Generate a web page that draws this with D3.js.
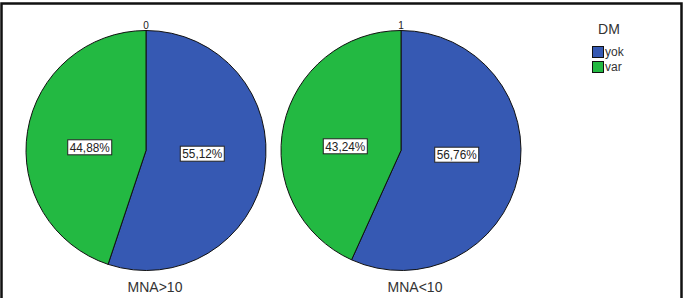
<!DOCTYPE html>
<html><head><meta charset="utf-8">
<script src="https://cdn.jsdelivr.net/npm/d3@7"></script>
<style>body{margin:0;background:#fff}svg{display:block}text{font-family:"Liberation Sans",Arial,sans-serif}</style>
</head><body>
<svg id="c" width="687" height="298"></svg>
<script>
const panels = ["0", "1"];
const panelTitles = ["MNA>10", "MNA<10"];
const categories = ["yok", "var"];
const yokValues = [55.12, 56.76];
const varValues = [44.88, 43.24];
const legendTitle = "DM";
const colors = ["#3659b3", "#23b942"];

const svg = d3.select("#c");
svg.append("rect").attr("x", 1.5).attr("y", 3.5).attr("width", 680).attr("height", 300)
  .attr("fill", "#fff").attr("stroke", "#111").attr("stroke-width", 2.5);

const R = 120;
const cx = d3.scalePoint().domain(panels).range([146, 401]);
const color = d3.scaleOrdinal().domain(categories).range(colors);
const pie = d3.pie().sort(null).value(d => d.v);
const arc = d3.arc().innerRadius(0).outerRadius(R);
const labelArc = d3.arc().innerRadius(0).outerRadius(R * 0.95);
const titleX = [155, 415];

panels.forEach((p, i) => {
  const data = categories.map((c, j) => ({c, v: j === 0 ? yokValues[i] : varValues[i]}));
  const g = svg.append("g").attr("transform", `translate(${cx(p)},150.5)`);
  const arcs = pie(data);
  g.selectAll("path").data(arcs).join("path")
    .attr("d", arc).attr("fill", d => color(d.data.c))
    .attr("stroke", "#111").attr("stroke-width", 1);
  arcs.forEach(d => {
    const [x0, y0] = labelArc.centroid(d);
    const x = x0, y = y0 * 0.35;
    const t = d.data.v.toFixed(2).replace(".", ",") + "%";
    const lg = g.append("g").attr("transform", `translate(${x},${y})`);
    lg.append("rect").attr("x", -22).attr("y", -7.5).attr("width", 44).attr("height", 15)
      .attr("fill", "#fff").attr("stroke", "#222").attr("stroke-width", 1);
    lg.append("text").attr("text-anchor", "middle").attr("y", 4.5)
      .attr("font-size", 12).attr("textLength", 40).attr("lengthAdjust", "spacingAndGlyphs")
      .attr("fill", "#222").text(t);
  });
  svg.append("text").attr("x", cx(p)).attr("y", 29).attr("text-anchor", "middle")
    .attr("font-size", 10).attr("fill", "#222").text(p);
  svg.append("text").attr("x", titleX[i]).attr("y", 292).attr("text-anchor", "middle")
    .attr("font-size", 14).attr("fill", "#333").text(panelTitles[i]);
});

const lg = svg.append("g").attr("transform", "translate(592,0)");
lg.append("text").attr("x", 17).attr("y", 34).attr("text-anchor", "middle")
  .attr("font-size", 14).attr("fill", "#333").text(legendTitle);
categories.forEach((c, j) => {
  lg.append("rect").attr("x", 0.5).attr("y", 46.5 + j * 15).attr("width", 11).attr("height", 11)
    .attr("fill", color(c)).attr("stroke", "#111").attr("stroke-width", 1);
  lg.append("text").attr("x", 13).attr("y", 56 + j * 15).attr("font-size", 12)
    .attr("fill", "#333").text(c);
});
</script>
</body></html>
